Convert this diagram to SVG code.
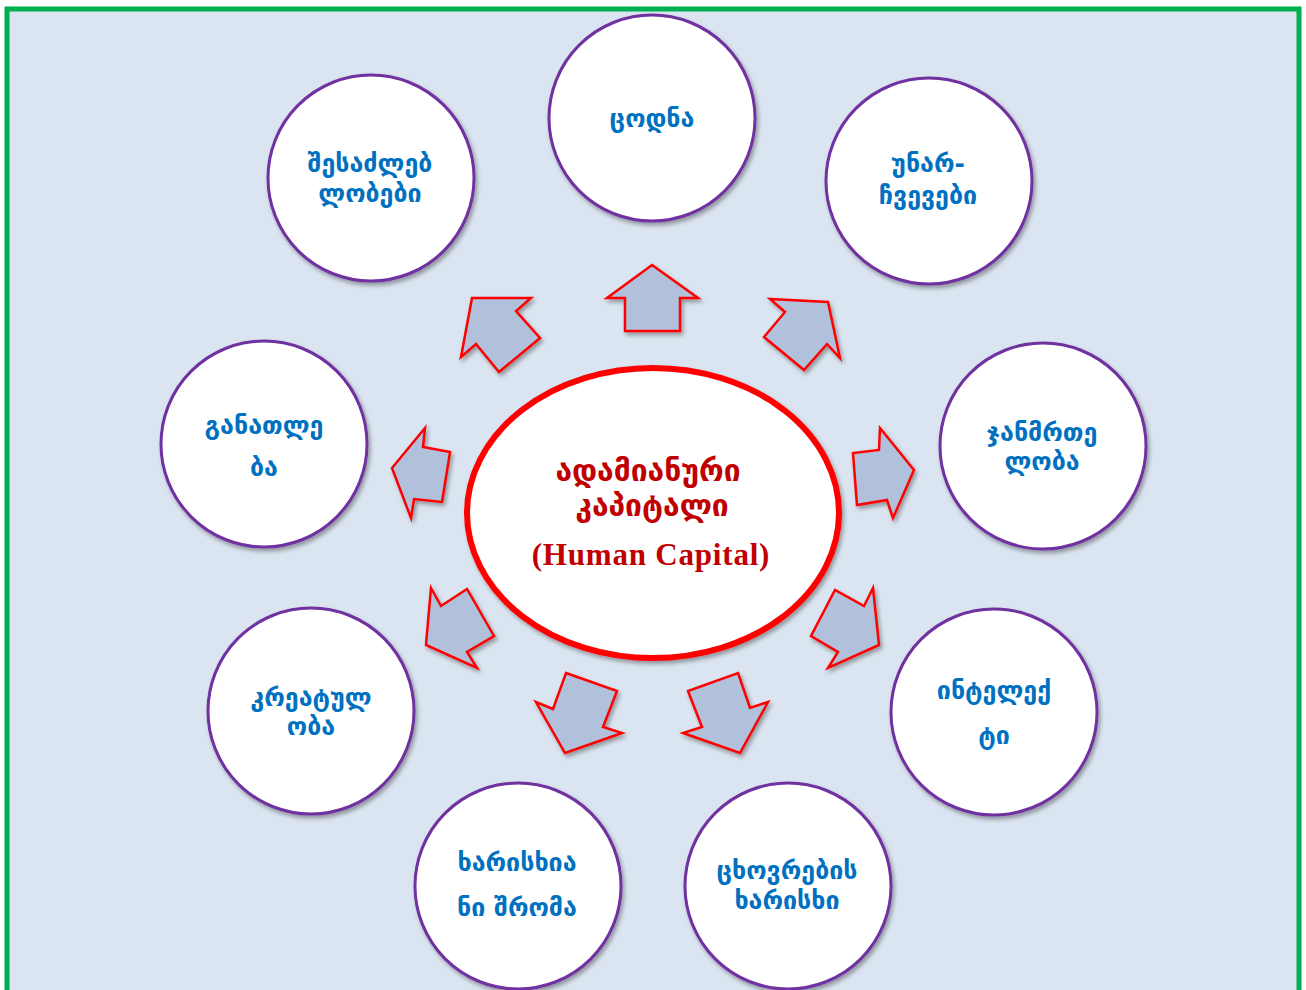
<svg xmlns="http://www.w3.org/2000/svg" width="1306" height="990" viewBox="0 0 1306 990">
<defs>
<filter id="sh" x="-20%" y="-20%" width="140%" height="140%">
<feDropShadow dx="2" dy="3" stdDeviation="2" flood-color="#000" flood-opacity="0.35"/>
</filter>
<style>
.node{fill:#fff;stroke:#7030a0;stroke-width:3;filter:url(#sh)}
.lbl{font-family:"DejaVu Sans",sans-serif;font-weight:bold;font-size:25px;fill:#0070c0;text-anchor:middle}
.arr{fill:#b1c1dc;stroke:#ff0000;stroke-width:2.5;stroke-linejoin:miter;filter:url(#sh)}
.ctr{font-family:"DejaVu Sans",sans-serif;font-weight:bold;font-size:30px;fill:#c00000;text-anchor:middle}
</style>
</defs>
<rect x="0" y="0" width="1306" height="990" fill="#fff"/>
<rect x="7" y="9" width="1292" height="1000" fill="#dbe5f1" stroke="#00b050" stroke-width="5"/>

<g id="connectors">
<polygon class="arr" points="652,265 698,298 680,298 680,331 625,331 625,298 607,298"/>
<polygon class="arr" points="472,298 531,298 516,311 540,338 499,372 476,344 461,357"/>
<polygon class="arr" points="770,299 828,302 840,358 827,344 804,370 764,337 785,312"/>
<polygon class="arr" points="392,468 425,428 423,447 450,452 442,502 414,499 411,518"/>
<polygon class="arr" points="914,470 880,428 879,450 853,453 857,505 887,500 893,518"/>
<polygon class="arr" points="431,588 441,606 467,589 494,636 467,652 477,668 426,645"/>
<polygon class="arr" points="873,588 864,606 835,590 811,636 838,652 828,668 879,645"/>
<polygon class="arr" points="566,673 617,691 603,727 622,733 565,753 536,702 553,709"/>
<polygon class="arr" points="738,673 750,708 768,702 740,753 683,733 702,727 688,691"/>
</g>

<g id="center">
<ellipse cx="653" cy="513" rx="186" ry="145" fill="#fff" stroke="#ff0000" stroke-width="6" filter="url(#sh)"/>
<text class="ctr" x="648" y="481">ადამიანური</text>
<text class="ctr" x="652" y="516">კაპიტალი</text>
<text x="651" y="565" font-family="Liberation Serif, serif" font-weight="bold" font-size="31" letter-spacing="0.8" fill="#c00000" text-anchor="middle">(Human Capital)</text>
</g>

<g id="n-knowledge">
<circle class="node" cx="652" cy="118" r="103"/>
<text class="lbl" x="652" y="127">ცოდნა</text>
</g>
<g id="n-abilities">
<circle class="node" cx="371" cy="178" r="103"/>
<text class="lbl" x="370" y="172">შესაძლებ</text>
<text class="lbl" x="370" y="202">ლობები</text>
</g>
<g id="n-skills">
<circle class="node" cx="929" cy="181" r="103"/>
<text class="lbl" x="928" y="172">უნარ-</text>
<text class="lbl" x="928" y="204">ჩვევები</text>
</g>
<g id="n-education">
<circle class="node" cx="264" cy="444" r="103"/>
<text class="lbl" x="264" y="434">განათლე</text>
<text class="lbl" x="264" y="476">ბა</text>
</g>
<g id="n-health">
<circle class="node" cx="1043" cy="446" r="103"/>
<text class="lbl" x="1042" y="441">ჯანმრთე</text>
<text class="lbl" x="1042" y="470">ლობა</text>
</g>
<g id="n-creativity">
<circle class="node" cx="311" cy="711" r="103"/>
<text class="lbl" x="311" y="706">კრეატულ</text>
<text class="lbl" x="311" y="735">ობა</text>
</g>
<g id="n-intellect">
<circle class="node" cx="994" cy="712" r="103"/>
<text class="lbl" x="994" y="699">ინტელექ</text>
<text class="lbl" x="994" y="744">ტი</text>
</g>
<g id="n-quality-labor">
<circle class="node" cx="518" cy="886" r="103"/>
<text class="lbl" x="517" y="871">ხარისხია</text>
<text class="lbl" x="517" y="916">ნი შრომა</text>
</g>
<g id="n-quality-life">
<circle class="node" cx="788" cy="886" r="103"/>
<text class="lbl" x="787" y="879">ცხოვრების</text>
<text class="lbl" x="787" y="909">ხარისხი</text>
</g>
</svg>
